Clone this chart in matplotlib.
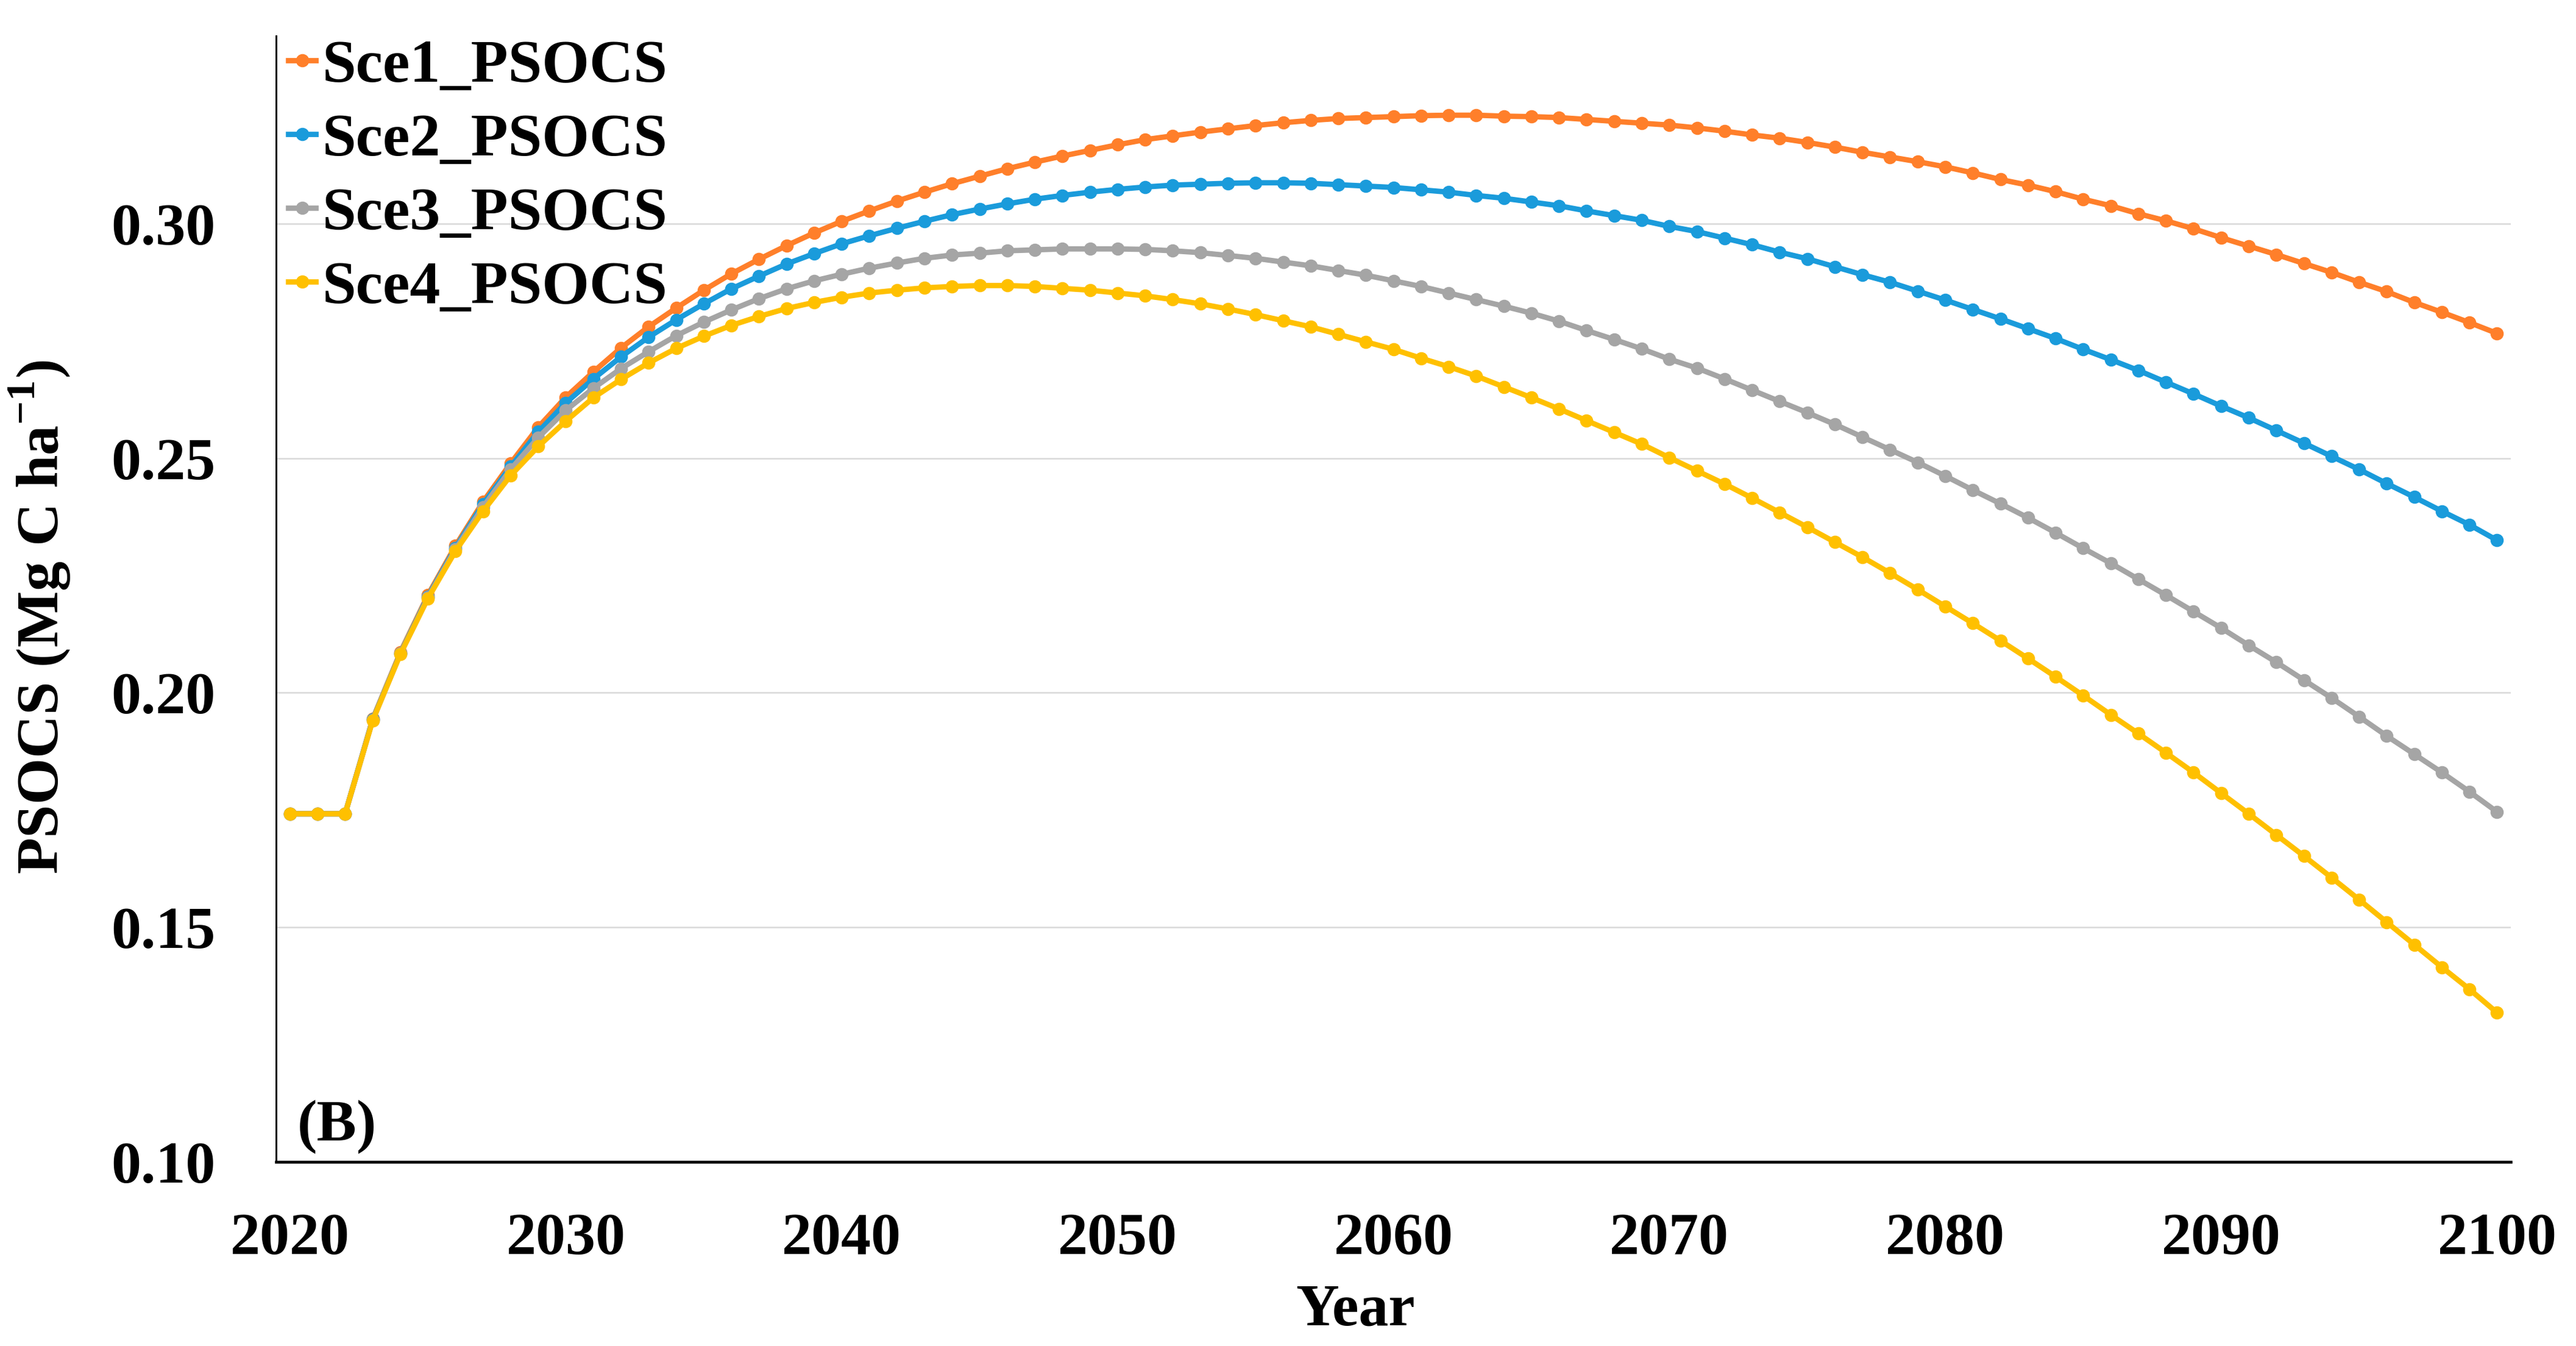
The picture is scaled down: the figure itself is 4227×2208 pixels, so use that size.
import matplotlib
matplotlib.use("Agg")
import matplotlib.pyplot as plt

plt.rcParams['font.family'] = ['Liberation Serif', 'DejaVu Serif']
plt.rcParams['font.weight'] = 'bold'
plt.rcParams['mathtext.fontset'] = 'custom'
plt.rcParams['mathtext.rm'] = 'Liberation Serif:bold'
plt.rcParams['mathtext.bf'] = 'Liberation Serif:bold'

years = list(range(2020, 2101))

sce1 = [0.1742, 0.1742, 0.1742, 0.1944, 0.2086, 0.2208, 0.2313, 0.2407, 0.2489, 0.2566,
        0.2630, 0.2684, 0.2735, 0.2780, 0.2820, 0.2858, 0.2893, 0.2924, 0.2953, 0.2980,
        0.3005, 0.3027, 0.3048, 0.3067, 0.3085, 0.3101, 0.3117, 0.3131, 0.3144, 0.3156,
        0.3168, 0.3179, 0.3187, 0.3195, 0.3202, 0.3209, 0.3215, 0.3220, 0.3224, 0.3226,
        0.3228, 0.3230, 0.3231, 0.3231, 0.3229, 0.3228, 0.3226, 0.3222, 0.3218, 0.3214,
        0.3210, 0.3204, 0.3197, 0.3189, 0.3182, 0.3173, 0.3163, 0.3152, 0.3142, 0.3132,
        0.3121, 0.3108, 0.3094, 0.3082, 0.3068, 0.3052, 0.3038, 0.3021, 0.3006, 0.2989,
        0.2970, 0.2952, 0.2934, 0.2915, 0.2896, 0.2875, 0.2855, 0.2832, 0.2811, 0.2789,
        0.2766]

sce2 = [0.1742, 0.1742, 0.1742, 0.1943, 0.2084, 0.2205, 0.2309, 0.2402, 0.2482, 0.2556,
        0.2618, 0.2669, 0.2716, 0.2758, 0.2795, 0.2829, 0.2861, 0.2888, 0.2914, 0.2936,
        0.2957, 0.2974, 0.2990, 0.3005, 0.3019, 0.3031, 0.3042, 0.3052, 0.3060, 0.3067,
        0.3073, 0.3078, 0.3082, 0.3084, 0.3086, 0.3087, 0.3087, 0.3086, 0.3083, 0.3080,
        0.3077, 0.3072, 0.3067, 0.3060, 0.3054, 0.3046, 0.3038, 0.3027, 0.3017, 0.3007,
        0.2994, 0.2983, 0.2969, 0.2955, 0.2939, 0.2925, 0.2908, 0.2891, 0.2875, 0.2856,
        0.2837, 0.2817, 0.2797, 0.2776, 0.2755, 0.2732, 0.2710, 0.2687, 0.2662, 0.2637,
        0.2611, 0.2586, 0.2559, 0.2532, 0.2504, 0.2476, 0.2446, 0.2417, 0.2387, 0.2358,
        0.2325]

sce3 = [0.1742, 0.1742, 0.1742, 0.1942, 0.2083, 0.2203, 0.2306, 0.2396, 0.2476, 0.2544,
        0.2602, 0.2649, 0.2691, 0.2727, 0.2761, 0.2790, 0.2816, 0.2840, 0.2861, 0.2878,
        0.2892, 0.2905, 0.2916, 0.2926, 0.2933, 0.2937, 0.2942, 0.2944, 0.2946, 0.2946,
        0.2946, 0.2945, 0.2942, 0.2938, 0.2932, 0.2926, 0.2918, 0.2910, 0.2900, 0.2890,
        0.2878, 0.2866, 0.2852, 0.2838, 0.2824, 0.2809, 0.2792, 0.2772, 0.2753, 0.2733,
        0.2711, 0.2692, 0.2669, 0.2645, 0.2621, 0.2597, 0.2572, 0.2545, 0.2518, 0.2491,
        0.2462, 0.2432, 0.2403, 0.2373, 0.2341, 0.2308, 0.2276, 0.2242, 0.2208, 0.2173,
        0.2138, 0.2101, 0.2065, 0.2027, 0.1989, 0.1949, 0.1908, 0.1869, 0.1830, 0.1789,
        0.1746]

sce4 = [0.1742, 0.1742, 0.1742, 0.1941, 0.2082, 0.2201, 0.2302, 0.2387, 0.2463, 0.2525,
        0.2579, 0.2629, 0.2668, 0.2703, 0.2734, 0.2760, 0.2783, 0.2802, 0.2819, 0.2832,
        0.2843, 0.2852, 0.2858, 0.2863, 0.2866, 0.2868, 0.2868, 0.2866, 0.2862, 0.2858,
        0.2852, 0.2846, 0.2838, 0.2829, 0.2818, 0.2806, 0.2793, 0.2780, 0.2764, 0.2748,
        0.2732, 0.2713, 0.2695, 0.2675, 0.2652, 0.2629, 0.2605, 0.2580, 0.2555, 0.2530,
        0.2501, 0.2473, 0.2445, 0.2415, 0.2384, 0.2353, 0.2321, 0.2289, 0.2255, 0.2220,
        0.2184, 0.2148, 0.2111, 0.2073, 0.2034, 0.1994, 0.1953, 0.1913, 0.1872, 0.1830,
        0.1786, 0.1742, 0.1697, 0.1652, 0.1606, 0.1559, 0.1511, 0.1463, 0.1415, 0.1368,
        0.1318]

series = [
    ('Sce1_PSOCS', sce1, '#FF7F2A'),
    ('Sce2_PSOCS', sce2, '#1A9BDB'),
    ('Sce3_PSOCS', sce3, '#A5A5A5'),
    ('Sce4_PSOCS', sce4, '#FFC000'),
]

x_ticks = [2020, 2030, 2040, 2050, 2060, 2070, 2080, 2090, 2100]
y_ticks = [0.10, 0.15, 0.20, 0.25, 0.30]

fig = plt.figure(figsize=(14.09, 7.36), dpi=300)
ax = fig.add_axes([0.1072, 0.1368, 0.8675, 0.8365])

for name, vals, col in series:
    ax.plot(years, vals, color=col, linewidth=2.1, marker='o', markersize=4.2,
            label=name, zorder=3)

ax.set_xlim(2019.5, 2100.5)
ax.set_ylim(0.10, 0.34)
ax.set_xticks(x_ticks)
ax.set_yticks(y_ticks)
ax.set_yticklabels([f'{v:.2f}' for v in y_ticks])
ax.tick_params(axis='both', length=0, labelsize=23.5)
ax.tick_params(axis='x', pad=20)
ax.tick_params(axis='y', pad=24)

ax.grid(axis='y', color='#D9D9D9', linewidth=0.6, zorder=0)
for s in ['top', 'right']:
    ax.spines[s].set_visible(False)
ax.spines['left'].set_linewidth(0.7)
ax.spines['bottom'].set_linewidth(1.1)

ax.set_xlabel('Year', fontsize=23.5, fontweight='bold')
ax.xaxis.set_label_coords(0.483, -0.108)
ax.set_ylabel(r'PSOCS (Mg C ha$^{\mathbf{-1}}$)', fontsize=23.5, fontweight='bold')
ax.yaxis.set_label_coords(-0.091, 0.484)

ax.text(0.0095, 0.031, '(B)', transform=ax.transAxes, fontsize=23.5,
        fontweight='bold', ha='left', va='center')

ax.legend(loc='upper left', bbox_to_anchor=(0.0, 1.008), frameon=False,
          fontsize=24, handlelength=0.45, handletextpad=0.1,
          borderpad=0.2, borderaxespad=0.0, labelspacing=0.3)

fig.savefig('out.png', dpi=300)
